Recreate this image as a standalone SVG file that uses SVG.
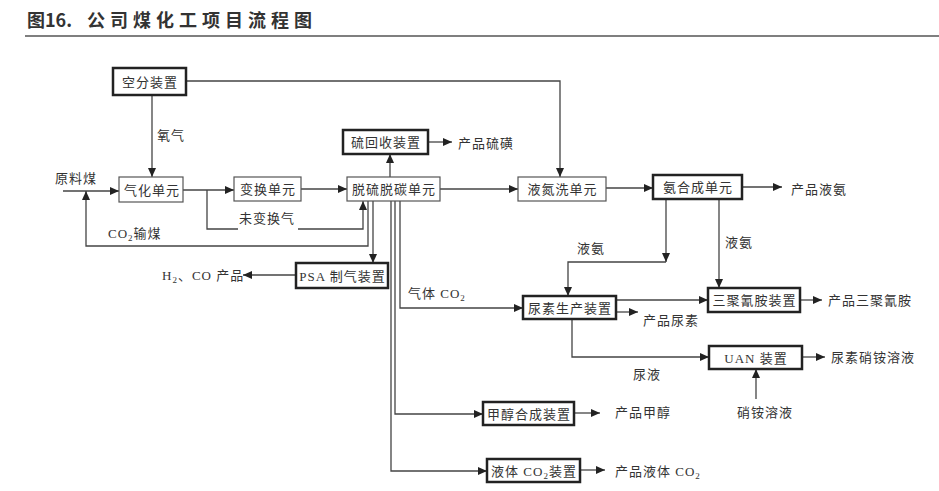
<svg xmlns="http://www.w3.org/2000/svg" width="939" height="491" viewBox="0 0 939 491">
<style>
.thin{fill:#fff;stroke:#555;stroke-width:1.2}
.thick{fill:#fff;stroke:#222;stroke-width:2.5}
.t{font-family:"Liberation Serif","Noto Sans CJK SC",serif;font-size:13px;fill:#333;letter-spacing:1px}
.c{text-anchor:middle}
.ln{fill:none;stroke:#444;stroke-width:1.3}
.title{font-family:"Noto Sans CJK SC",sans-serif;font-size:18px;font-weight:bold;fill:#333}
</style>
<defs>
<marker id="a" markerWidth="9" markerHeight="8" refX="9" refY="4" orient="auto" markerUnits="userSpaceOnUse"><path d="M0,0 L9,4 L0,8 z" fill="#222"/></marker>
</defs>
<rect width="939" height="491" fill="#fff"/>
<text class="title" x="27" y="27">图16.</text>
<text class="title" x="87" y="27" letter-spacing="5">公司煤化工项目流程图</text>
<line x1="25" y1="36" x2="939" y2="36" stroke="#555" stroke-width="1.5"/>

<g id="connectors" class="ln">
<path d="M186,81 H560 V177" marker-end="url(#a)"/>
<path d="M152,95 V177" marker-end="url(#a)"/>
<path d="M63,191 H119" marker-end="url(#a)"/>
<path d="M183,190 H234" marker-end="url(#a)"/>
<path d="M207,190 V229 H238 M298,229 H363 V201" marker-end="url(#a)"/>
<path d="M301,189 H347" marker-end="url(#a)"/>
<path d="M368,201 V246 H86 V191" marker-end="url(#a)"/>
<path d="M373,201 V263" marker-end="url(#a)"/>
<path d="M390,177 V154" marker-end="url(#a)"/>
<path d="M428,142 H452" marker-end="url(#a)"/>
<path d="M440,189 H518" marker-end="url(#a)"/>
<path d="M606,188 H653" marker-end="url(#a)"/>
<path d="M742,187 H782" marker-end="url(#a)"/>
<path d="M666,199 V262" marker-end="url(#a)"/>
<path d="M666,262 H568 V296" marker-end="url(#a)"/>
<path d="M719,199 V288" marker-end="url(#a)"/>
<path d="M616,300 H708" marker-end="url(#a)"/>
<path d="M616,312 H638" marker-end="url(#a)"/>
<path d="M800,300 H822" marker-end="url(#a)"/>
<path d="M572,319 V357 H709" marker-end="url(#a)"/>
<path d="M802,357 H825" marker-end="url(#a)"/>
<path d="M756,399 V369" marker-end="url(#a)"/>
<path d="M296,275 H243" marker-end="url(#a)"/>
<path d="M400,201 V308 H523" marker-end="url(#a)"/>
<path d="M395,201 V414 H483" marker-end="url(#a)"/>
<path d="M574,413 H600" marker-end="url(#a)"/>
<path d="M391,201 V471 H487" marker-end="url(#a)"/>
<path d="M580,470 H605" marker-end="url(#a)"/>
</g>

<g id="n-kongfen"><rect class="thick" x="113" y="68" width="73" height="27"/><text class="t c" x="150" y="86.5">空分装置</text></g>
<g id="n-qihua"><rect class="thin" x="119" y="177" width="64" height="25"/><text class="t c" x="152" y="194.5">气化单元</text></g>
<g id="n-bianhuan"><rect class="thin" x="234" y="177" width="67" height="24"/><text class="t c" x="268" y="194">变换单元</text></g>
<g id="n-tuoliu"><rect class="thin" x="347" y="177" width="93" height="24"/><text class="t c" x="394" y="194">脱硫脱碳单元</text></g>
<g id="n-liuhuishou"><rect class="thick" x="343" y="130" width="85" height="24"/><text class="t c" x="386" y="147">硫回收装置</text></g>
<g id="n-yedanxi"><rect class="thin" x="518" y="177" width="88" height="24"/><text class="t c" x="562.5" y="194">液氮洗单元</text></g>
<g id="n-anhecheng"><rect class="thick" x="653" y="175" width="89" height="24"/><text class="t c" x="698" y="192">氨合成单元</text></g>
<g id="n-niaosu"><rect class="thick" x="523" y="296" width="93" height="23"/><text class="t c" x="570" y="312.5">尿素生产装置</text></g>
<g id="n-sanju"><rect class="thick" x="708" y="288" width="92" height="24"/><text class="t c" x="754.5" y="305">三聚氰胺装置</text></g>
<g id="n-uan"><rect class="thick" x="709" y="346" width="93" height="23"/><text class="t c" x="756" y="362.5">UAN 装置</text></g>
<g id="n-psa"><rect class="thick" x="296" y="263" width="92" height="25"/><text class="t c" x="342.5" y="280.5">PSA 制气装置</text></g>
<g id="n-jiachun"><rect class="thick" x="483" y="402" width="91" height="23"/><text class="t c" x="529" y="418.5">甲醇合成装置</text></g>
<g id="n-yeticO2"><rect class="thick" x="487" y="459" width="93" height="23"/><text class="t c" x="534" y="475.5">液体 CO<tspan font-size="9" dy="3">2</tspan><tspan dy="-3">装置</tspan></text></g>

<g id="labels">
<text class="t" x="55" y="183">原料煤</text>
<text class="t" x="157" y="140">氧气</text>
<text class="t" x="239" y="223">未变换气</text>
<text class="t" x="108" y="238">CO<tspan font-size="9" dy="3">2</tspan><tspan dy="-3">输煤</tspan></text>
<text class="t" x="458" y="148">产品硫磺</text>
<text class="t" x="577" y="253">液氨</text>
<text class="t" x="791" y="194">产品液氨</text>
<text class="t" x="725" y="247">液氨</text>
<text class="t" x="828" y="305">产品三聚氰胺</text>
<text class="t" x="643" y="325">产品尿素</text>
<text class="t" x="831" y="362">尿素硝铵溶液</text>
<text class="t" x="633" y="379">尿液</text>
<text class="t" x="737" y="417">硝铵溶液</text>
<text class="t" x="162" y="280">H<tspan font-size="9" dy="3">2</tspan><tspan dy="-3">、CO 产品</tspan></text>
<text class="t" x="408" y="298">气体 CO<tspan font-size="9" dy="3">2</tspan></text>
<text class="t" x="615" y="417">产品甲醇</text>
<text class="t" x="615" y="476">产品液体 CO<tspan font-size="9" dy="3">2</tspan></text>
</g>
</svg>
